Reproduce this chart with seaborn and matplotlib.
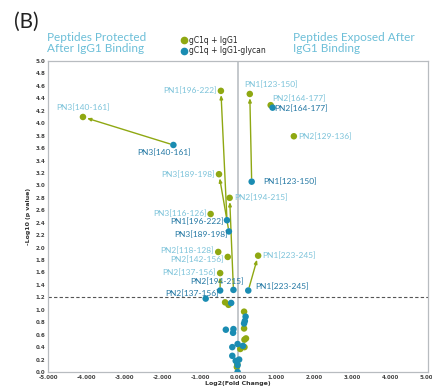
import matplotlib
matplotlib.use("Agg")
import matplotlib.pyplot as plt
import seaborn as sns
import pandas as pd
import numpy as np
from matplotlib.lines import Line2D

# ---------------- data ----------------
series_names = ["gC1q + IgG1", "gC1q + IgG1-glycan"]

# labeled peptides (olive = gC1q + IgG1)
igg1_labels = ["PN3[140-161]", "PN1[196-222]", "PN1[123-150]", "PN2[164-177]", "PN2[129-136]",
               "PN3[189-198]", "PN2[194-215]", "PN3[116-126]", "PN2[118-128]", "PN2[142-156]",
               "PN2[137-156]", "PN1[223-245]"]
igg1_x = [-4.08, -0.45, 0.31, 0.86, 1.47, -0.50, -0.22, -0.72, -0.52, -0.27, -0.47, 0.53]
igg1_y = [4.10, 4.52, 4.47, 4.29, 3.79, 3.18, 2.80, 2.54, 1.93, 1.85, 1.59, 1.87]

# labeled peptides (teal = gC1q + IgG1-glycan)
glycan_labels = ["PN3[140-161]", "PN1[196-222]", "PN1[123-150]", "PN2[164-177]",
                 "PN3[189-198]", "PN2[194-215]", "PN2[137-156]", "PN1[223-245]"]
glycan_x = [-1.70, -0.29, 0.36, 0.91, -0.24, -0.12, -0.47, 0.27]
glycan_y = [3.65, 2.44, 3.06, 4.25, 2.26, 1.32, 1.31, 1.31]

# unlabeled (non-significant) peptides
igg1_ns_x = [-0.34, -0.25, 0.16, 0.16, 0.21, 0.17, 0.06, 0.17, -0.03, -0.02]
igg1_ns_y = [1.12, 1.08, 0.97, 0.70, 0.54, 0.52, 0.37, 0.40, 0.08, 0.13]
glycan_ns_x = [-0.85, -0.18, -0.32, -0.12, -0.13, 0.20, 0.18, 0.16, -0.01, -0.15, 0.13,
               -0.15, -0.06, 0.03, -0.01, -0.01]
glycan_ns_y = [1.18, 1.11, 0.68, 0.69, 0.63, 0.89, 0.82, 0.78, 0.45, 0.40, 0.42,
               0.26, 0.18, 0.20, 0.11, 0.00]

# pairs joined by arrows (glycan -> IgG1)
arrow_peptides = ["PN3[140-161]", "PN1[196-222]", "PN1[123-150]", "PN3[189-198]",
                  "PN2[194-215]", "PN2[137-156]", "PN1[223-245]"]

x_ticks = [-5, -4, -3, -2, -1, 0, 1, 2, 3, 4, 5]
y_ticks = [round(v * 0.2, 1) for v in range(26)]
threshold = 1.2

# ---------------- styling / layout ----------------
OLIVE = "#8fa812"
TEAL = "#1a8cb2"
LIGHT_TXT = "#7cc3da"
DARK_TXT = "#2277a3"
TITLE_C = "#6cbfd8"

# label placement: (offset x pt, offset y pt, ha, va)
igg1_lab_pos = {
    "PN3[140-161]": (0, 4, "center", "bottom"),
    "PN1[196-222]": (-3, 0, "right", "center"),
    "PN1[123-150]": (-4, 4, "left", "bottom"),
    "PN2[164-177]": (1, 2, "left", "bottom"),
    "PN2[129-136]": (3, 0, "left", "center"),
    "PN3[189-198]": (-3, 0, "right", "center"),
    "PN2[194-215]": (3, 0, "left", "center"),
    "PN3[116-126]": (-3, 0, "right", "center"),
    "PN2[118-128]": (-3, 1, "right", "center"),
    "PN2[142-156]": (-3, -2, "right", "center"),
    "PN2[137-156]": (-3, 0.5, "right", "center"),
    "PN1[223-245]": (3, 0, "left", "center"),
}
glycan_lab_pos = {
    "PN3[140-161]": (-7, -3, "center", "top"),
    "PN1[196-222]": (-2.5, -1, "right", "center"),
    "PN1[123-150]": (8, 0, "left", "center"),
    "PN2[164-177]": (1.5, -1, "left", "center"),
    "PN3[189-198]": (-1, -2.5, "right", "center"),
    "PN2[194-215]": (-12, 6, "center", "center"),
    "PN2[137-156]": (-1, -2, "right", "center"),
    "PN1[223-245]": (5, 3, "left", "center"),
}

sns.set_style("white")
plt.rcParams["font.family"] = ["Lato", "DejaVu Sans"]

fig = plt.figure(figsize=(4.32, 3.90), dpi=100)
ax = fig.add_axes([48 / 432, 1 - 372 / 390, 380 / 432, 311 / 390])

df = pd.DataFrame({
    "x": igg1_x + igg1_ns_x + glycan_x + glycan_ns_x,
    "y": igg1_y + igg1_ns_y + glycan_y + glycan_ns_y,
    "series": [series_names[0]] * (len(igg1_x) + len(igg1_ns_x))
              + [series_names[1]] * (len(glycan_x) + len(glycan_ns_x)),
})

ax.axvline(0, color="#c4c8cc", lw=1.4, zorder=1)
ax.axhline(threshold, color="#555555", lw=0.8, ls=(0, (3, 2)), zorder=1)

# arrows
for p in arrow_peptides:
    i = igg1_labels.index(p)
    j = glycan_labels.index(p)
    ax.annotate("", xy=(igg1_x[i], igg1_y[i]), xytext=(glycan_x[j], glycan_y[j]),
                arrowprops=dict(arrowstyle="-|>,head_length=0.22,head_width=0.09",
                                color=OLIVE, lw=1.0, shrinkA=2.5, shrinkB=3.0),
                zorder=2)

sns.scatterplot(data=df, x="x", y="y", hue="series", palette=[OLIVE, TEAL],
                s=22, edgecolor="none", ax=ax, zorder=3, legend=False)

for lab, x, y in zip(igg1_labels, igg1_x, igg1_y):
    dx, dy, ha, va = igg1_lab_pos[lab]
    ax.annotate(lab, (x, y), xytext=(dx, dy), textcoords="offset points",
                ha=ha, va=va, fontsize=6, color=LIGHT_TXT, zorder=4)
for lab, x, y in zip(glycan_labels, glycan_x, glycan_y):
    dx, dy, ha, va = glycan_lab_pos[lab]
    ax.annotate(lab, (x, y), xytext=(dx, dy), textcoords="offset points",
                ha=ha, va=va, fontsize=6, color=DARK_TXT, zorder=4)

ax.set_xlim(-5, 5)
ax.set_ylim(0, 5)
ax.set_xticks(x_ticks)
ax.set_xticklabels([f"{v:.3f}" for v in x_ticks])
ax.set_yticks(y_ticks)
ax.set_yticklabels([f"{v:.1f}" for v in y_ticks])
ax.tick_params(length=0, labelsize=4, pad=2, colors="#444444")
for t in ax.get_xticklabels() + ax.get_yticklabels():
    t.set_fontweight("bold")
    t.set_family("DejaVu Sans")
for s in ax.spines.values():
    s.set_color("#b8bcc0")
    s.set_linewidth(0.9)

ax.set_xlabel("Log2(Fold Change)", fontsize=4.5, fontweight="bold", color="#333333",
              labelpad=1, family="DejaVu Sans")
ax.set_ylabel("-Log10 (p value)", fontsize=4.5, fontweight="bold", color="#333333",
              labelpad=3, family="DejaVu Sans")

# legend
handles = [Line2D([], [], marker="o", ls="none", color=c, markersize=4.5) for c in (OLIVE, TEAL)]
fig.legend(handles, series_names, loc="upper left", bbox_to_anchor=(176 / 432, 1 - 32 / 390),
           frameon=False, handletextpad=0.2, labelspacing=0.2,
           handlelength=1.0, borderpad=0, prop={"family": "DejaVu Sans", "size": 5.5})

fig.text(14 / 432, 1 - 22 / 390, "(B)", fontsize=15, color="#222222", va="center", ha="left")
fig.text(47 / 432, 1 - 43 / 390, "Peptides Protected\nAfter IgG1 Binding", fontsize=8.5,
         color=TITLE_C, va="center", ha="left", linespacing=1.05)
fig.text(293 / 432, 1 - 43 / 390, "Peptides Exposed After\nIgG1 Binding", fontsize=8.5,
         color=TITLE_C, va="center", ha="left", linespacing=1.05)

fig.savefig("out.png", dpi=100)
